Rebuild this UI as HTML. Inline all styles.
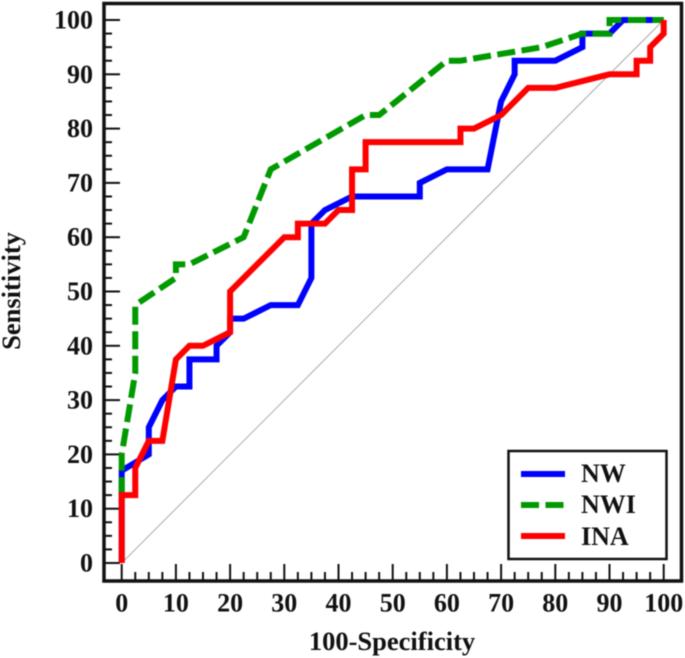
<!DOCTYPE html>
<html>
<head>
<meta charset="utf-8">
<style>
html,body{margin:0;padding:0;background:#fff;width:685px;height:658px;overflow:hidden}
svg{display:block;filter:blur(0.5px)}
text{font-family:"Liberation Serif",serif;font-weight:bold;fill:#111}
</style>
</head>
<body>
<svg id="chart" width="685" height="658" viewBox="0 0 685 658" xmlns="http://www.w3.org/2000/svg">
  <line id="diag" stroke="#aaa" stroke-width="1"/>
  <g id="ticks"></g>
  <g id="labels"></g>
  <g id="series"></g>
  <path d="M104 581V3.5H681.5V581Z" fill="none" stroke="#111" stroke-width="3.5"/>
  <text x="392" y="650" font-size="26.5" text-anchor="middle">100-Specificity</text>
  <text transform="translate(20,291) rotate(-90)" font-size="26.5" text-anchor="middle">Sensitivity</text>
  <g>
    <rect x="508.5" y="451" width="158" height="108" fill="#fff" stroke="#111" stroke-width="2.5"/>
    <line x1="521" x2="565" y1="474" y2="474" stroke="#0000ff" stroke-width="6"/>
    <text x="581" y="482" font-size="26">NW</text>
    <line x1="521" x2="565" y1="505" y2="505" stroke="#009900" stroke-width="6" stroke-dasharray="18 6.5"/>
    <text x="581" y="513" font-size="26">NWI</text>
    <line x1="521" x2="565" y1="536" y2="536" stroke="#ff0000" stroke-width="6"/>
    <text x="581" y="545" font-size="26">INA</text>
  </g>
</svg>
<script>
const tickLabels = [0,10,20,30,40,50,60,70,80,90,100];
const minorTicks = [2.5,5,7.5];

const nwX  = [0,0,2.5,5,5,7.5,10,12.5,12.5,17.5,17.5,20,20,22.5,27.5,32.5,35,35,37.5,42.5,55,55,60,67.5,70,72.5,72.5,80,85,85,90,92.5,100];
const nwY  = [0,17,18.5,20,25,30,32.5,32.5,37.5,37.5,40,42.5,45,45,47.5,47.5,52.5,62.5,65,67.5,67.5,70,72.5,72.5,85,90,92.5,92.5,95,97.5,97.5,100,100];

const nwiX = [0,0,2.5,2.5,10,10,12.5,22.5,27.5,45,47.5,60,62.5,77.5,85,90,90,100];
const nwiY = [12.5,20,35,47.5,52.5,55,55,60,72.5,82.5,82.5,92.5,92.5,95,97.5,97.5,100,100];

const inaX = [0,0,2.5,2.5,5,7.5,10,12.5,15,20,20,30,32.5,32.5,37.5,40,42.5,42.5,45,45,62.5,62.5,65,70,75,80,90,95,95,97.5,97.5,100,100];
const inaY = [0,12.5,12.5,17.5,22.5,22.5,37.5,40,40,42.5,50,60,60,62.5,62.5,65,65,72.5,72.5,77.5,77.5,80,80,82.5,87.5,87.5,90,90,92.5,92.5,95,97.5,100];

const NS = 'http://www.w3.org/2000/svg';
const sx = v => 121.7 + v * 5.42;
const sy = v => 563 - v * 5.43;
const axisX = 104, axisY = 581;

function make(tag, attrs, parent, text) {
  const el = document.createElementNS(NS, tag);
  for (const k in attrs) el.setAttribute(k, attrs[k]);
  if (text !== undefined) el.textContent = text;
  parent.appendChild(el);
  return el;
}

const diag = document.getElementById('diag');
diag.setAttribute('x1', sx(0));
diag.setAttribute('y1', sy(0));
diag.setAttribute('x2', sx(100));
diag.setAttribute('y2', sy(100));

const ticksG = document.getElementById('ticks');
const labelsG = document.getElementById('labels');

tickLabels.forEach((v, i) => {
  const xt = make('line', {x1: sx(v), x2: sx(v), y1: axisY, y2: axisY - 17, stroke: '#111', 'stroke-width': 2}, ticksG);
  
  
  const yt = make('line', {x1: axisX, x2: axisX + 16, y1: sy(v), y2: sy(v), stroke: '#111', 'stroke-width': 2}, ticksG);
  
  
  const xl = make('text', {x: sx(v), y: 611.5, 'font-size': 26, 'text-anchor': 'middle'}, labelsG, String(v));
  
  
  const yl = make('text', {x: 93, y: sy(v) + 8.5, 'font-size': 26, 'text-anchor': 'end'}, labelsG, String(v));
  
  
  if (i < tickLabels.length - 1) {
    minorTicks.forEach(m => {
      const xm = make('line', {x1: sx(v + m), x2: sx(v + m), y1: axisY, y2: axisY - 9, stroke: '#111', 'stroke-width': 2}, ticksG);
      
      
      const ym = make('line', {x1: axisX, x2: axisX + 8, y1: sy(v + m), y2: sy(v + m), stroke: '#111', 'stroke-width': 2}, ticksG);
      
      
    });
  }
});

function curve(xs, ys) {
  return xs.map((x, i) => (i ? 'L' : 'M') + sx(x).toFixed(2) + ' ' + sy(ys[i]).toFixed(2)).join('');
}

const seriesG = document.getElementById('series');

const nwPath = make('path', {d: curve(nwX, nwY), fill: 'none', stroke: '#0000ff', 'stroke-width': 6, 'stroke-linejoin': 'miter'}, seriesG);



const nwiPath = make('path', {d: curve(nwiX, nwiY), fill: 'none', stroke: '#009900', 'stroke-width': 6, 'stroke-dasharray': '18 6.5', 'stroke-linejoin': 'miter'}, seriesG);



const inaPath = make('path', {d: curve(inaX, inaY), fill: 'none', stroke: '#ff0000', 'stroke-width': 6, 'stroke-linejoin': 'miter'}, seriesG);


</script>
</body>
</html>
